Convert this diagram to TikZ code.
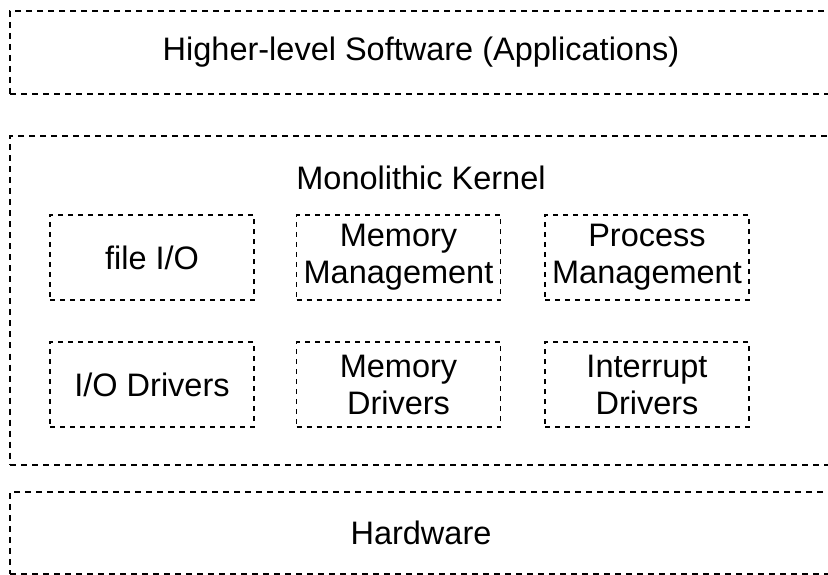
\documentclass[tikz,border=0pt]{standalone}
\usepackage{fontspec}
\setmainfont{Liberation Sans}
\usetikzlibrary{positioning}

\begin{document}
\begin{tikzpicture}[x=1pt, y=-1pt,
        layer/.style={draw=black, dash pattern=on 6pt off 5pt, line width=2pt, minimum width=822pt, inner sep=0pt, font=\fontsize{32.5}{37}\selectfont},
        part/.style={draw=black, dash pattern=on 5pt off 5pt, line width=1.6pt, minimum width=204pt, minimum height=85pt, inner sep=0pt, align=center, font=\fontsize{32.5}{37}\selectfont}
    ]
        \useasboundingbox (0,0) rectangle (828,575);

        % LAYERS
        \node[layer, minimum height=83pt] (apps) at (421, 52.5) {Higher-level Software (Applications)};
        \node[layer, minimum height=328pt] (kernel) at (421, 300.5) {};
        \node[layer, minimum height=82pt] (hw) at (421, 533) {Hardware};
        \node[font=\fontsize{32.5}{37}\selectfont] (ktitle) at (421, 178) {Monolithic Kernel};

        % KERNEL PARTS
        \node[part] (fileio) at (152, 257.5) {file I/O};
        \node[part] (memmgmt) at (398.5, 257.5) {Memory\\Management};
        \node[part] (procmgmt) at (647, 257.5) {Process\\Management};
        \node[part] (iodrv) at (152, 384.5) {I/O Drivers};
        \node[part] (memdrv) at (398.5, 384.5) {Memory\\Drivers};
        \node[part] (intdrv) at (647, 384.5) {Interrupt\\Drivers};
    \end{tikzpicture}
\end{document}
